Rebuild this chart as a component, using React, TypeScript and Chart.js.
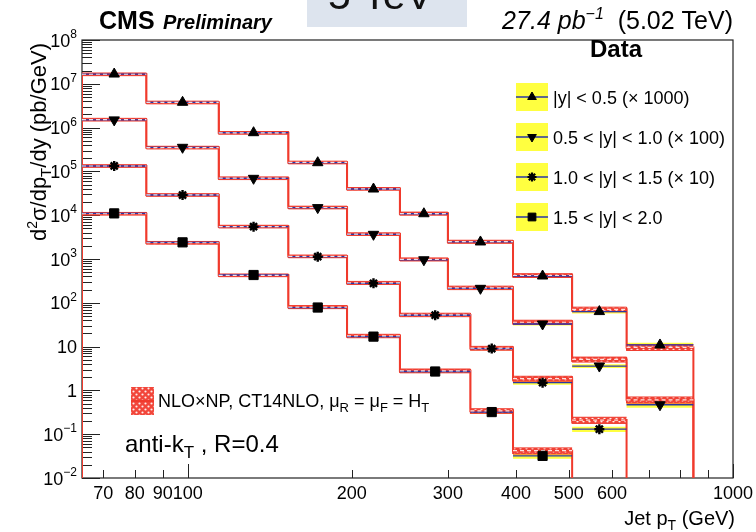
import React, { useEffect, useRef } from 'react';
import { Chart, registerables } from 'chart.js';
import { drawPoint } from 'chart.js/helpers';

Chart.register(...registerables);

const FONT = "'Liberation Sans', Arial, Helvetica, sans-serif";
const YMIN = 0.01;
const YMAX = 1e8;
const XMIN = 64;
const XMAX = 1000;

// bin edges (GeV)
const edgesY05 = [64, 84, 114, 153, 196, 245, 300, 395, 507, 638, 846];
const edgesY10 = [64, 84, 114, 153, 196, 245, 300, 395, 507, 638, 846];
const edgesY15 = [64, 84, 114, 153, 196, 245, 330, 395, 507, 638];
const edgesY20 = [64, 84, 114, 153, 196, 245, 330, 395, 507];

// measured cross sections (scaled)
const dataY05 = [1.67e7, 3.78e6, 7.65e5, 1.58e5, 3.96e4, 1.08e4, 2.45e3, 409, 63, 10.9];
const dataY10 = [1.5e6, 3.55e5, 6.95e4, 1.49e4, 3.66e3, 960, 214, 32.8, 3.6, 0.47];
const dataY15 = [1.33e5, 2.89e4, 5.47e3, 1.13e3, 279, 52, 9.0, 1.5, 0.13];
const dataY20 = [1.1e4, 2.4e3, 431, 78, 16.9, 2.7, 0.32, 0.032];

// NLO x NP predictions
const theoryY05 = [1.65e7, 3.75e6, 7.6e5, 1.6e5, 4.0e4, 1.09e4, 2.48e3, 420, 71, 9.6];
const theoryY10 = [1.52e6, 3.5e5, 7.0e4, 1.5e4, 3.7e3, 980, 220, 36, 5.1, 0.61];
const theoryY15 = [1.33e5, 2.9e4, 5.5e3, 1.15e3, 285, 53, 9.2, 1.86, 0.21];
const theoryY20 = [1.08e4, 2.35e3, 425, 80, 17.5, 2.8, 0.34, 0.042];

// relative uncertainties
const dataUncY05 = [0.05, 0.05, 0.05, 0.05, 0.05, 0.06, 0.06, 0.07, 0.09, 0.13];
const dataUncY10 = [0.05, 0.05, 0.05, 0.05, 0.05, 0.06, 0.07, 0.08, 0.1, 0.14];
const dataUncY15 = [0.05, 0.05, 0.05, 0.05, 0.06, 0.07, 0.08, 0.1, 0.14];
const dataUncY20 = [0.05, 0.05, 0.05, 0.06, 0.07, 0.08, 0.1, 0.14];
const theoryUncY05 = [0.07, 0.07, 0.07, 0.07, 0.07, 0.08, 0.08, 0.1, 0.12, 0.15];
const theoryUncY10 = [0.07, 0.07, 0.07, 0.07, 0.07, 0.08, 0.09, 0.11, 0.13, 0.16];
const theoryUncY15 = [0.07, 0.07, 0.07, 0.07, 0.08, 0.09, 0.1, 0.13, 0.16];
const theoryUncY20 = [0.07, 0.07, 0.07, 0.08, 0.09, 0.1, 0.12, 0.16];

const seriesLabels = ['|y| < 0.5 (× 1000)', '0.5 < |y| < 1.0 (× 100)', '1.0 < |y| < 1.5 (× 10)', '1.5 < |y| < 2.0'];
const seriesMarkers = ['triangle', 'triangle', 'star', 'rect'];
const seriesRotations = [0, 180, 0, 0];

const xTickValues = [70, 80, 90, 100, 200, 300, 400, 500, 600, 700, 800, 900, 1000];
const xTickLabels = ['70', '80', '90', '100', '200', '300', '400', '500', '600', '', '', '', '1000'];
const yTickValues = [1e-2, 1e-1, 1, 10, 1e2, 1e3, 1e4, 1e5, 1e6, 1e7, 1e8];
const yTickBases = ['10', '10', '1', '10', '10', '10', '10', '10', '10', '10', '10'];
const yTickExps = ['−2', '−1', '', '', '2', '3', '4', '5', '6', '7', '8'];

const RED = '#f03a2c';
const YELLOW = '#ffff40';
const BLUE = '#2a36a6';

type Run = { t: string; size: number; dy?: number; style?: string };

function fontOf(r: Run) {
  return `${r.style || ''} ${r.size}px ${FONT}`.trim();
}

function drawRuns(ctx: CanvasRenderingContext2D, runs: Run[], x: number, y: number, align: 'left' | 'right' | 'center') {
  let w = 0;
  for (const r of runs) {
    ctx.font = fontOf(r);
    w += ctx.measureText(r.t).width;
  }
  let cx = align === 'left' ? x : align === 'right' ? x - w : x - w / 2;
  ctx.textAlign = 'left';
  ctx.textBaseline = 'alphabetic';
  for (const r of runs) {
    ctx.font = fontOf(r);
    ctx.fillText(r.t, cx, y + (r.dy || 0));
    cx += ctx.measureText(r.t).width;
  }
}

function stepPoints(edges: number[], vals: number[], floor: boolean) {
  const pts: { x: number; y: number }[] = [];
  if (floor) pts.push({ x: edges[0], y: YMIN });
  vals.forEach((v, i) => {
    pts.push({ x: edges[i], y: v }, { x: edges[i + 1], y: v });
  });
  if (floor) pts.push({ x: edges[vals.length], y: YMIN });
  return pts;
}

function segPoints(edges: number[], vals: number[]) {
  const pts: { x: number; y: number | null }[] = [];
  vals.forEach((v, i) => {
    pts.push({ x: edges[i], y: v }, { x: edges[i + 1], y: v }, { x: edges[i + 1], y: null });
  });
  return pts;
}

function centerPoints(edges: number[], vals: number[]) {
  return vals.map((v, i) => ({ x: Math.sqrt(edges[i] * edges[i + 1]), y: v }));
}

function makePattern(ctx: CanvasRenderingContext2D) {
  const pc = document.createElement('canvas');
  pc.width = 6;
  pc.height = 6;
  const g = pc.getContext('2d')!;
  g.fillStyle = '#f2463a';
  g.fillRect(0, 0, 6, 6);
  g.fillStyle = 'rgba(255,255,255,0.9)';
  g.beginPath();
  g.arc(1.5, 1.5, 1.1, 0, Math.PI * 2);
  g.arc(4.5, 4.5, 1.1, 0, Math.PI * 2);
  g.fill();
  return ctx.createPattern(pc, 'repeat')!;
}

export default function App() {
  const ref = useRef<HTMLCanvasElement>(null);

  useEffect(() => {
    const canvas = ref.current!;
    const ctx0 = canvas.getContext('2d')!;
    const pattern = makePattern(ctx0);

    const series = [
      { edges: edgesY05, data: dataY05, theory: theoryY05, du: dataUncY05, tu: theoryUncY05 },
      { edges: edgesY10, data: dataY10, theory: theoryY10, du: dataUncY10, tu: theoryUncY10 },
      { edges: edgesY15, data: dataY15, theory: theoryY15, du: dataUncY15, tu: theoryUncY15 },
      { edges: edgesY20, data: dataY20, theory: theoryY20, du: dataUncY20, tu: theoryUncY20 },
    ];

    const datasets: any[] = [];
    series.forEach((s, k) => {
      const base = { pointRadius: 0, tension: 0, spanGaps: false };
      datasets.push({ ...base, label: `dataUp${k}`, data: stepPoints(s.edges, s.data.map((v, i) => v * (1 + s.du[i])), false), borderWidth: 0, borderColor: YELLOW, fill: false, order: 7 });
      datasets.push({ ...base, label: `dataLo${k}`, data: stepPoints(s.edges, s.data.map((v, i) => v * (1 - s.du[i])), false), borderWidth: 0, borderColor: YELLOW, backgroundColor: YELLOW, fill: '-1', order: 7 });
      datasets.push({ ...base, label: `thUp${k}`, data: stepPoints(s.edges, s.theory.map((v, i) => v * (1 + s.tu[i])), false), borderWidth: 1, borderColor: RED, fill: false, order: 6 });
      datasets.push({ ...base, label: `thLo${k}`, data: stepPoints(s.edges, s.theory.map((v, i) => v * (1 - s.tu[i])), false), borderWidth: 1, borderColor: RED, backgroundColor: pattern, fill: '-1', order: 6 });
      datasets.push({ ...base, label: `th${k}`, data: stepPoints(s.edges, s.theory, true), borderWidth: 2, borderColor: RED, fill: false, order: 5 });
      datasets.push({ ...base, label: `data${k}`, data: segPoints(s.edges, s.data), borderWidth: 1.3, borderColor: BLUE, fill: false, order: 4 });
      datasets.push({ ...base, label: `thDash${k}`, data: segPoints(s.edges, s.theory), borderWidth: 1.2, borderColor: 'rgba(255,255,255,0.85)', borderDash: [4, 3], fill: false, order: 3 });
      const isStar = seriesMarkers[k] === 'star';
      datasets.push({
        label: `mk${k}`,
        data: centerPoints(s.edges, s.data),
        showLine: false,
        pointStyle: seriesMarkers[k],
        rotation: seriesRotations[k],
        pointRadius: isStar ? 5 : seriesMarkers[k] === 'rect' ? 6.5 : 6,
        pointBackgroundColor: '#000',
        pointBorderColor: '#000',
        pointBorderWidth: isStar ? 2.4 : 1,
        order: 1,
      });
    });

    const decorations = {
      id: 'decorations',
      beforeDatasetsDraw(chart: any) {
        const { ctx, chartArea: a, scales } = chart;
        const x = scales.x;
        const y = scales.y;
        ctx.save();
        ctx.strokeStyle = '#222';
        ctx.lineWidth = 1.2;
        ctx.strokeRect(a.left, a.top, a.right - a.left, a.bottom - a.top);
        ctx.lineWidth = 1;
        ctx.beginPath();
        yTickValues.forEach((v, i) => {
          const py = Math.round(y.getPixelForValue(v)) + 0.5;
          ctx.moveTo(a.left, py);
          ctx.lineTo(a.left + 18, py);
          if (i < yTickValues.length - 1) {
            for (let m = 2; m <= 9; m++) {
              const p2 = Math.round(y.getPixelForValue(m * v)) + 0.5;
              ctx.moveTo(a.left, p2);
              ctx.lineTo(a.left + 10, p2);
            }
          }
        });
        xTickValues.forEach((v) => {
          const px = Math.round(x.getPixelForValue(v)) + 0.5;
          const len = v === 100 || v === 1000 ? 14 : 8;
          ctx.moveTo(px, a.bottom);
          ctx.lineTo(px, a.bottom - len);
        });
        ctx.stroke();
        ctx.restore();
      },
      afterDraw(chart: any) {
        const { ctx, chartArea: a, scales } = chart;
        const x = scales.x;
        const y = scales.y;
        ctx.save();
        ctx.fillStyle = '#000';

        // y tick labels
        yTickValues.forEach((v, i) => {
          const py = y.getPixelForValue(v);
          const right = a.left - 5;
          const exp = yTickExps[i];
          ctx.textAlign = 'right';
          ctx.textBaseline = 'alphabetic';
          if (exp) {
            ctx.font = `12px ${FONT}`;
            const ew = ctx.measureText(exp).width;
            ctx.fillText(exp, right, py - 2);
            ctx.font = `18px ${FONT}`;
            ctx.fillText(yTickBases[i], right - ew, py + 6.5);
          } else {
            ctx.font = `18px ${FONT}`;
            ctx.fillText(yTickBases[i], right, py + 6.5);
          }
        });

        // x tick labels
        ctx.font = `18px ${FONT}`;
        ctx.textAlign = 'center';
        ctx.textBaseline = 'alphabetic';
        xTickValues.forEach((v, i) => {
          if (!xTickLabels[i]) return;
          ctx.fillText(xTickLabels[i], x.getPixelForValue(v), a.bottom + 21);
        });

        // axis titles
        drawRuns(ctx, [
          { t: 'Jet p', size: 20 },
          { t: 'T', size: 14, dy: 5 },
          { t: ' (GeV)', size: 20 },
        ], 735, 525, 'right');

        ctx.save();
        ctx.translate(46, 43);
        ctx.rotate(-Math.PI / 2);
        drawRuns(ctx, [
          { t: 'd', size: 22 },
          { t: '2', size: 14, dy: -9 },
          { t: 'σ/dp', size: 22 },
          { t: 'T', size: 15, dy: 5 },
          { t: '/dy (pb/GeV)', size: 22 },
        ], 0, 0, 'right');
        ctx.restore();

        // header
        ctx.fillStyle = '#dde4ee';
        ctx.fillRect(307, 0, 160, 27);
        ctx.fillStyle = '#111';
        drawRuns(ctx, [{ t: '5 TeV', size: 41 }], 328, 9, 'left');
        ctx.fillStyle = '#000';
        drawRuns(ctx, [{ t: 'CMS', size: 25, style: 'bold' }], 99, 29, 'left');
        drawRuns(ctx, [{ t: 'Preliminary', size: 20, style: 'italic bold' }], 163, 29, 'left');
        drawRuns(ctx, [
          { t: '27.4 pb', size: 25, style: 'italic' },
          { t: '−1', size: 16, style: 'italic', dy: -10 },
          { t: '  (5.02 TeV)', size: 25 },
        ], 733, 29, 'right');

        // data legend
        drawRuns(ctx, [{ t: 'Data', size: 24, style: 'bold' }], 616, 57, 'center');
        seriesLabels.forEach((lab, k) => {
          const cy = 97 + k * 40;
          ctx.fillStyle = YELLOW;
          ctx.fillRect(516, cy - 14, 32, 28);
          ctx.strokeStyle = BLUE;
          ctx.lineWidth = 1.5;
          ctx.beginPath();
          ctx.moveTo(516, cy);
          ctx.lineTo(548, cy);
          ctx.stroke();
          ctx.fillStyle = '#000';
          ctx.strokeStyle = '#000';
          const isStar = seriesMarkers[k] === 'star';
          ctx.lineWidth = isStar ? 2.2 : 1;
          drawPoint(ctx, {
            pointStyle: seriesMarkers[k],
            rotation: seriesRotations[k],
            radius: isStar ? 4.5 : seriesMarkers[k] === 'rect' ? 5.5 : 5,
            borderWidth: isStar ? 2.2 : 1,
          } as any, 532, cy);
          ctx.fillStyle = '#000';
          drawRuns(ctx, [{ t: lab, size: 18 }], 553, cy + 6.5, 'left');
        });

        // theory legend
        ctx.fillStyle = pattern;
        ctx.fillRect(131, 387, 23, 28);
        ctx.strokeStyle = RED;
        ctx.lineWidth = 2;
        ctx.beginPath();
        ctx.moveTo(131, 401);
        ctx.lineTo(154, 401);
        ctx.stroke();
        ctx.fillStyle = '#000';
        drawRuns(ctx, [
          { t: 'NLO×NP, CT14NLO, μ', size: 18 },
          { t: 'R', size: 13, dy: 5 },
          { t: ' = μ', size: 18 },
          { t: 'F', size: 13, dy: 5 },
          { t: ' = H', size: 18 },
          { t: 'T', size: 13, dy: 5 },
        ], 158, 407, 'left');

        drawRuns(ctx, [
          { t: 'anti-k', size: 24 },
          { t: 'T', size: 17, dy: 6 },
          { t: ' , R=0.4', size: 24 },
        ], 125, 452, 'left');

        ctx.restore();
      },
    };

    const chart = new Chart(canvas, {
      type: 'line',
      data: { datasets },
      options: {
        responsive: false,
        devicePixelRatio: 1,
        animation: false,
        events: [],
        layout: { padding: { left: 82, top: 40, right: 23, bottom: 54 } },
        plugins: { legend: { display: false }, tooltip: { enabled: false }, title: { display: false } },
        scales: {
          x: { type: 'logarithmic', min: XMIN, max: XMAX, display: false },
          y: { type: 'logarithmic', min: YMIN, max: YMAX, display: false },
        },
      },
      plugins: [decorations],
    } as any);

    return () => chart.destroy();
  }, []);

  return (
    <div style={{ position: 'absolute', left: 0, top: 0, width: 756, height: 532, background: '#fff' }}>
      <canvas ref={ref} width={756} height={532} style={{ display: 'block', width: 756, height: 532 }} />
    </div>
  );
}
